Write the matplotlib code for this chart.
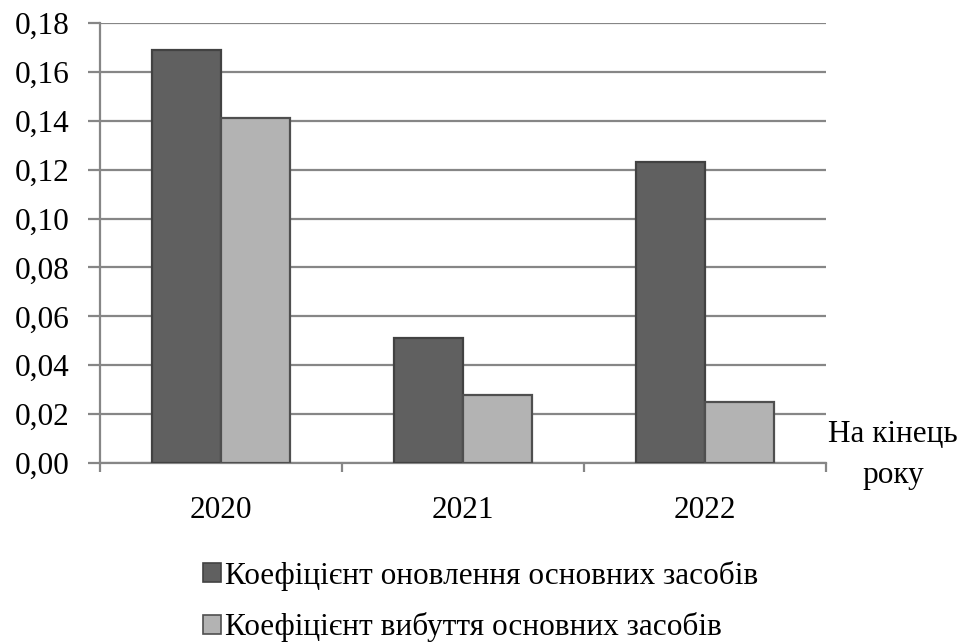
import matplotlib
matplotlib.use("Agg")
import matplotlib.pyplot as plt
import numpy as np
from matplotlib.patches import Patch
from matplotlib import font_manager

paths = font_manager.findSystemFonts()
serif_path = None
for p in paths:
    b = p.split('/')[-1].lower()
    if b.startswith('liberationserif-regular'):
        serif_path = p
        break
if serif_path:
    font_manager.fontManager.addfont(serif_path)
    fam = font_manager.FontProperties(fname=serif_path).get_name()
    plt.rcParams['font.family'] = [fam, 'DejaVu Sans']
else:
    plt.rcParams['font.family'] = ['Liberation Serif', 'DejaVu Serif', 'DejaVu Sans']

years = ['2020', '2021', '2022']
renewal = [0.169, 0.051, 0.123]
disposal = [0.141, 0.028, 0.025]
series_names = ['Коефіцієнт оновлення основних засобів',
                'Коефіцієнт вибуття основних засобів']
yticks = [0.00, 0.02, 0.04, 0.06, 0.08, 0.10, 0.12, 0.14, 0.16, 0.18]

FS = 22.5
fig = plt.figure(figsize=(9.62, 6.43), dpi=100)
ax = fig.add_axes([100/962, (643-463)/643, 726/962, 440/643])

x = np.arange(len(years))
w = 0.285
c1, e1 = '#606060', '#424242'
c2, e2 = '#b3b3b3', '#4f4f4f'
ax.bar(x - w/2, renewal, w, color=c1, edgecolor=e1, linewidth=1.6, zorder=3)
ax.bar(x + w/2, disposal, w, color=c2, edgecolor=e2, linewidth=1.6, zorder=3)

ax.set_xlim(-0.5, 2.5)
ax.set_ylim(0, 0.18)
ax.set_yticks(yticks)
ax.set_yticklabels([f'{v:.2f}'.replace('.', ',') for v in yticks], fontsize=FS)
ax.yaxis.grid(True, color='#868686', linewidth=1.6, zorder=0)
ax.tick_params(axis='y', length=9, width=1.6, color='#868686', pad=13)

ax.set_xticks(x)
ax.set_xticklabels(years, fontsize=FS)
ax.tick_params(axis='x', which='major', length=0, pad=24)
ax.set_xticks([-0.5, 0.5, 1.5, 2.5], minor=True)
ax.tick_params(axis='x', which='minor', length=6.5, width=1.6, color='#868686')

for s in ['top', 'right']:
    ax.spines[s].set_visible(False)
for s in ['left', 'bottom']:
    ax.spines[s].set_color('#868686')
    ax.spines[s].set_linewidth(1.6)

fig.text(893/962, 1 - 455/643, 'На кінець\nроку', ha='center', va='center',
         fontsize=FS, linespacing=1.5)

handles = [Patch(facecolor=c1, edgecolor=e1, linewidth=1.2),
           Patch(facecolor=c2, edgecolor=e2, linewidth=1.2)]
fig.legend(handles, series_names, loc='upper left',
           bbox_to_anchor=(203/962, 1 - 561/643), frameon=False, fontsize=FS,
           handlelength=0.56, handleheight=0.56, handletextpad=0.15,
           labelspacing=0.68, borderaxespad=0, borderpad=0)

fig.savefig('out.png', dpi=100)
